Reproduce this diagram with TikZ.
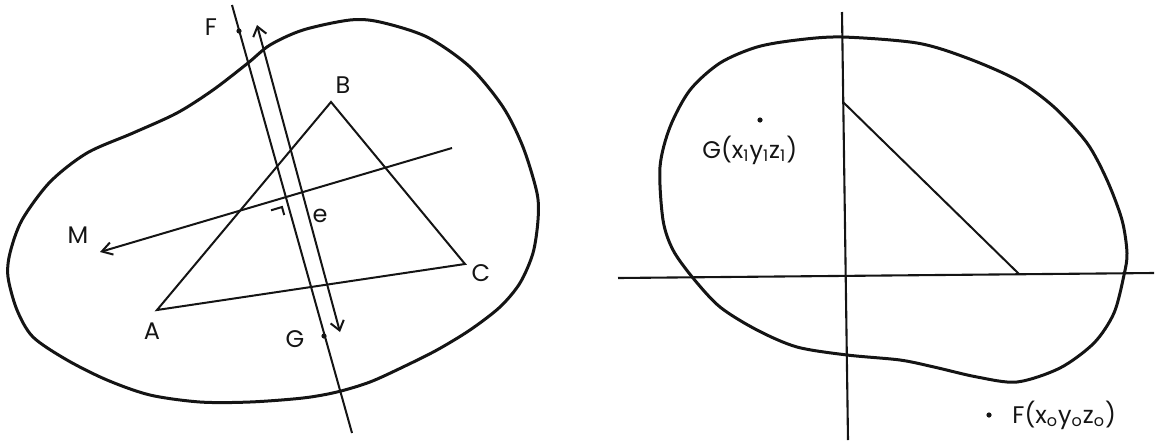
\documentclass[tikz,border=0pt]{standalone}
\usepackage{fontspec}
\setsansfont{Poppins}
\usepackage{xcolor}
\usepackage{tikz}
\usetikzlibrary{arrows.meta,calc}
\definecolor{inkline}{HTML}{141414}
\tikzset{
  region/.style={draw=inkline,line width=1.5pt,line join=round},
  ray/.style={draw=inkline,line width=1pt},
  axis/.style={draw=inkline,line width=1.05pt},
  vector/.style={ray,{Straight Barb[length=1.6mm,width=2.4mm]}-{Straight Barb[length=1.6mm,width=2.4mm]}},
  pointer/.style={ray,-{Straight Barb[length=1.8mm,width=2.2mm]}},
  pointdot/.style={circle,fill=inkline,inner sep=0pt,minimum size=2.6pt},
  lbl/.style={font=\sffamily\fontsize{12}{14}\selectfont,text=inkline,inner sep=1pt}
}

\begin{document}
\begin{tikzpicture}[x=0.5pt,y=-0.5pt]
  \useasboundingbox (0,0) rectangle (1157,440);

  % left view: plane region with triangle ABC
  \draw[region] plot[smooth cycle] coordinates {
    (8,277) (10,253) (22,220) (50,182) (87,153) (133,133) (177,113) (213,90)
    (248,63) (270,45) (303,30) (350,20) (380,22) (427,37) (470,67) (503,107)
    (523,147) (537,193) (538,220) (533,253) (520,283) (500,307) (470,330)
    (437,350) (403,367) (370,382) (337,392) (303,398) (250,402) (200,402)
    (150,395) (107,380) (67,360) (33,337) (17,310)};

  \coordinate (A) at (157,310);
  \coordinate (B) at (331,102);
  \coordinate (C) at (465,264);
  \draw[ray,line join=miter] (A) -- (B) -- (C) -- cycle;

  \coordinate (ftop) at (232,5);
  \coordinate (fbot) at (352,433);
  \draw[ray] (ftop) -- (fbot);
  \coordinate (vtop) at (257,25);
  \coordinate (vbot) at (340,332);
  \draw[vector] (vtop) -- (vbot);
  \coordinate (mstart) at (452,148);
  \coordinate (mtip) at (100,252);
  \draw[pointer] (mstart) -- (mtip);

  \coordinate (rtcorner) at (282,207);
  \coordinate (rtleft) at (271,210.3);
  \coordinate (rtdown) at (284.2,215);
  \draw[ray] (rtleft) -- (rtcorner) -- (rtdown);

  \node[pointdot] (F) at (239,31) {};
  \node[pointdot] (G) at (324,336) {};

  \node[lbl] (Flbl) at (211,27) {F};
  \node[lbl] (Glbl) at (295,339) {G};
  \node[lbl] (Albl) at (152,331) {A};
  \node[lbl] (Blbl) at (343,85) {B};
  \node[lbl] (Clbl) at (481,273) {C};
  \node[lbl] (Mlbl) at (78,235) {M};
  \node[lbl] (elbl) at (320,216) {e};

  % right view: the same region in axes
  \draw[region] plot[smooth cycle] coordinates {
    (842,37) (917,43) (967,58) (1017,80) (1054,107) (1087,143) (1107,180)
    (1122,220) (1127,253) (1124,275) (1114,313) (1094,343) (1060,368)
    (1017,382) (977,377) (934,367) (900,360) (847,355) (797,347) (757,330)
    (720,307) (693,278) (673,250) (663,220) (660,167) (670,127) (690,90)
    (720,63) (757,47) (797,40)};

  \coordinate (ytop) at (842,12);
  \coordinate (ybot) at (848,440);
  \coordinate (xleft) at (618,278);
  \coordinate (xright) at (1154,273);
  \draw[axis] (ytop) -- (ybot);
  \draw[axis] (xleft) -- (xright);
  \coordinate (hyptop) at (843,102);
  \coordinate (hypend) at (1019,274);
  \draw[ray] (hyptop) -- (hypend);

  \node[pointdot] (G1) at (760,120) {};
  \node[pointdot] (F0) at (989,415) {};
  \node[lbl,anchor=west] (G1lbl) at (700,150) {G(x\textsubscript{1}y\textsubscript{1}z\textsubscript{1})};
  \node[lbl,anchor=west] (F0lbl) at (1010,415) {F(x\textsubscript{o}y\textsubscript{o}z\textsubscript{o})};
\end{tikzpicture}
\end{document}
